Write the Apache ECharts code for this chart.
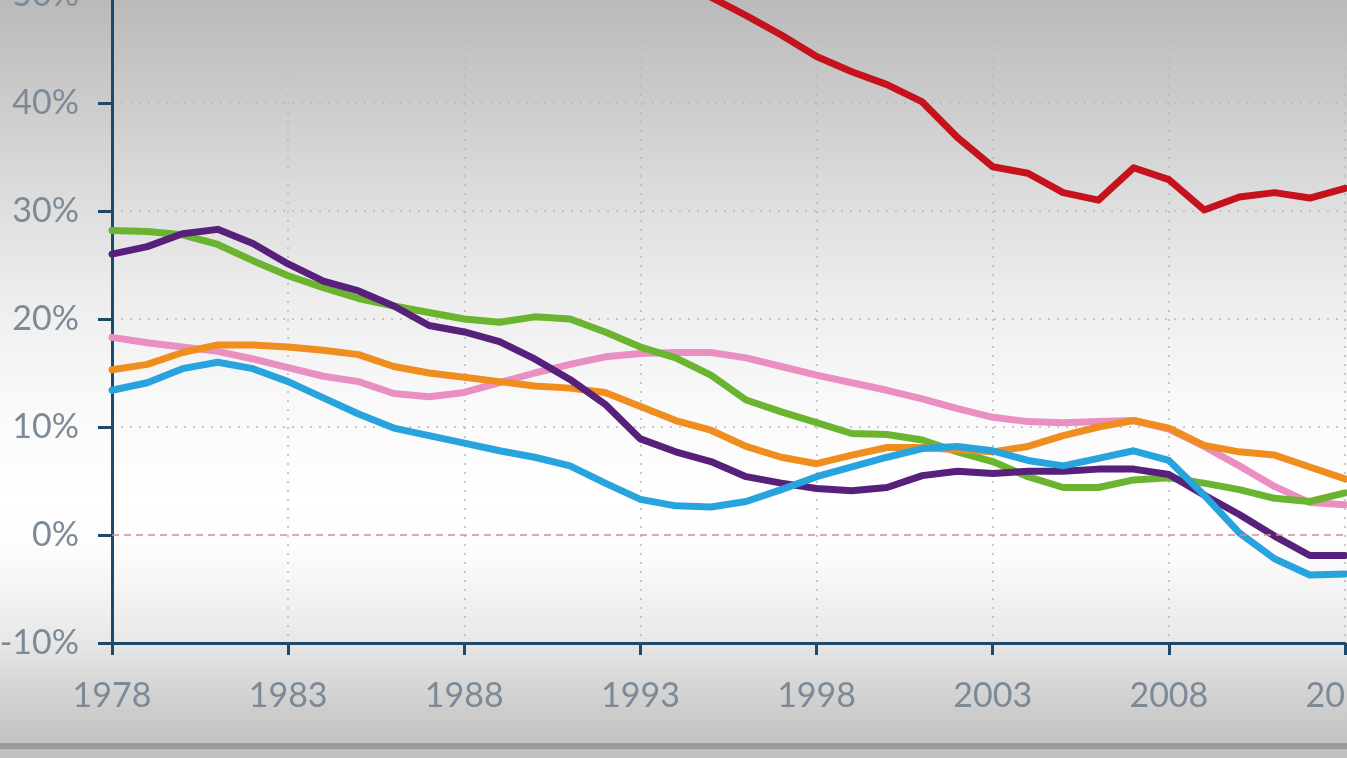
<!DOCTYPE html>
<html>
<head>
<meta charset="utf-8">
<script src="https://cdn.jsdelivr.net/npm/echarts@6/dist/echarts.min.js"></script>
<style>
  html, body { margin: 0; padding: 0; width: 1347px; height: 758px; overflow: hidden; }
  #chart { width: 1347px; height: 758px; }
</style>
</head>
<body>
<div id="chart"></div>
<script>
const years = [1978,1979,1980,1981,1982,1983,1984,1985,1986,1987,1988,1989,1990,1991,1992,1993,1994,1995,1996,1997,1998,1999,2000,2001,2002,2003,2004,2005,2006,2007,2008,2009,2010,2011,2012,2013];

const redValues = [58.0,57.5,57.8,57.0,56.4,55.9,55.2,54.8,54.5,54.0,53.6,53.4,53.0,52.6,52.1,51.5,50.8,49.8,48.1,46.3,44.3,42.9,41.7,40.1,36.8,34.1,33.5,31.7,31.0,34.0,32.9,30.1,31.3,31.7,31.2,32.1];
const greenValues = [28.2,28.1,27.8,26.9,25.4,24.0,22.9,21.9,21.2,20.6,20.0,19.7,20.2,20.0,18.8,17.4,16.4,14.8,12.5,11.4,10.4,9.4,9.3,8.8,7.7,6.8,5.4,4.4,4.4,5.1,5.3,4.8,4.2,3.4,3.1,3.9];
const purpleValues = [26.0,26.7,27.9,28.3,27.0,25.1,23.5,22.6,21.2,19.4,18.8,17.9,16.3,14.4,12.1,8.9,7.7,6.8,5.4,4.8,4.3,4.1,4.4,5.5,5.9,5.7,5.9,5.9,6.1,6.1,5.6,3.7,1.9,-0.1,-1.9,-1.9];
const pinkValues = [18.3,17.8,17.4,17.0,16.3,15.5,14.7,14.2,13.1,12.8,13.2,14.1,15.0,15.8,16.5,16.8,16.9,16.9,16.4,15.6,14.8,14.1,13.4,12.6,11.7,10.9,10.5,10.4,10.5,10.6,9.8,8.2,6.4,4.5,3.0,2.8];
const orangeValues = [15.3,15.8,16.9,17.6,17.6,17.4,17.1,16.7,15.6,15.0,14.6,14.2,13.8,13.6,13.2,11.9,10.6,9.7,8.2,7.2,6.6,7.4,8.1,8.1,7.9,7.7,8.2,9.2,10.0,10.6,9.9,8.3,7.7,7.4,6.3,5.2];
const blueValues = [13.4,14.1,15.4,16.0,15.4,14.2,12.7,11.2,9.9,9.2,8.5,7.8,7.2,6.4,4.8,3.3,2.7,2.6,3.1,4.2,5.4,6.3,7.2,8.0,8.2,7.8,6.9,6.4,7.1,7.8,6.9,3.7,0.2,-2.2,-3.7,-3.6];

const xTickStart = 1978, xTickEnd = 2013, xTickStep = 5;
const yMin = -10, yMax = 50, yStep = 10;

function pairs(vals) { return years.map((y, i) => [y, vals[i]]); }

const chart = echarts.init(document.getElementById('chart'), null, { renderer: 'canvas' });

const labelColor = '#7c8a97';
const axisColor = '#1d4a6a';
const gridColor = '#b8b8b8';

function lineSeries(name, vals, color, extra) {
  return Object.assign({
    name: name,
    type: 'line',
    data: pairs(vals),
    symbol: 'none',
    lineStyle: { width: 7, color: color, join: 'round', cap: 'round' },
    itemStyle: { color: color },
    animation: false,
    clip: true
  }, extra || {});
}

const option = {
  animation: false,
  backgroundColor: {
    type: 'linear', x: 0, y: 0, x2: 0, y2: 1,
    colorStops: [
      { offset: 0.00, color: '#bababa' },
      { offset: 0.13, color: '#cbcbcb' },
      { offset: 0.27, color: '#dedede' },
      { offset: 0.40, color: '#eeeeee' },
      { offset: 0.53, color: '#f9f9f9' },
      { offset: 0.66, color: '#ffffff' },
      { offset: 0.73, color: '#fcfcfc' },
      { offset: 0.84, color: '#e9e9e9' },
      { offset: 0.92, color: '#d1d1d1' },
      { offset: 0.980, color: '#c3c3c3' },
      { offset: 0.981, color: '#9b9b9b' },
      { offset: 0.988, color: '#9b9b9b' },
      { offset: 0.989, color: '#c2c2c2' },
      { offset: 1.00, color: '#c2c2c2' }
    ]
  },
  grid: { left: 112, right: 2, top: -5, bottom: 115, containLabel: false, outerBoundsMode: 'none' },
  xAxis: {
    type: 'value',
    min: xTickStart,
    max: xTickEnd,
    interval: xTickStep,
    axisLine: { show: true, onZero: false, lineStyle: { color: axisColor, width: 3 } },
    axisTick: { show: true, length: 12, lineStyle: { color: axisColor, width: 3 } },
    axisLabel: {
      show: true, margin: 36, color: labelColor, fontSize: 34,
      fontFamily: 'Lato', formatter: v => String(v),
      showMinLabel: true, showMaxLabel: true, hideOverlap: false
    },
    splitLine: { show: true, lineStyle: { color: gridColor, width: 1.5, type: [2, 7] } }
  },
  yAxis: {
    type: 'value',
    min: yMin,
    max: yMax,
    interval: yStep,
    axisLine: { show: true, lineStyle: { color: axisColor, width: 3 } },
    axisTick: { show: true, length: 14, lineStyle: { color: axisColor, width: 3 } },
    axisLabel: {
      show: true, margin: 33, color: labelColor, fontSize: 34,
      fontFamily: 'Lato', formatter: v => v + '%',
      showMinLabel: true, showMaxLabel: true
    },
    splitLine: {
      show: true,
      lineStyle: {
        color: ['rgba(0,0,0,0)', 'rgba(0,0,0,0)', gridColor, gridColor, gridColor, gridColor, gridColor],
        width: 1.5, type: [2, 7]
      }
    }
  },
  series: [
    lineSeries('Pink', pinkValues, '#e98fc1', {
      markLine: {
        silent: true, symbol: ['none', 'none'], label: { show: false },
        lineStyle: { color: '#d98c96', width: 1.5, type: [7, 5] },
        data: [{ yAxis: 0 }],
        animation: false
      }
    }),
    lineSeries('Green', greenValues, '#6ab42f'),
    lineSeries('Orange', orangeValues, '#ef8d1f'),
    lineSeries('Purple', purpleValues, '#57207b'),
    lineSeries('Blue', blueValues, '#27a3dd'),
    lineSeries('Red', redValues, '#c5121c')
  ]
};

chart.setOption(option);
</script>
</body>
</html>
